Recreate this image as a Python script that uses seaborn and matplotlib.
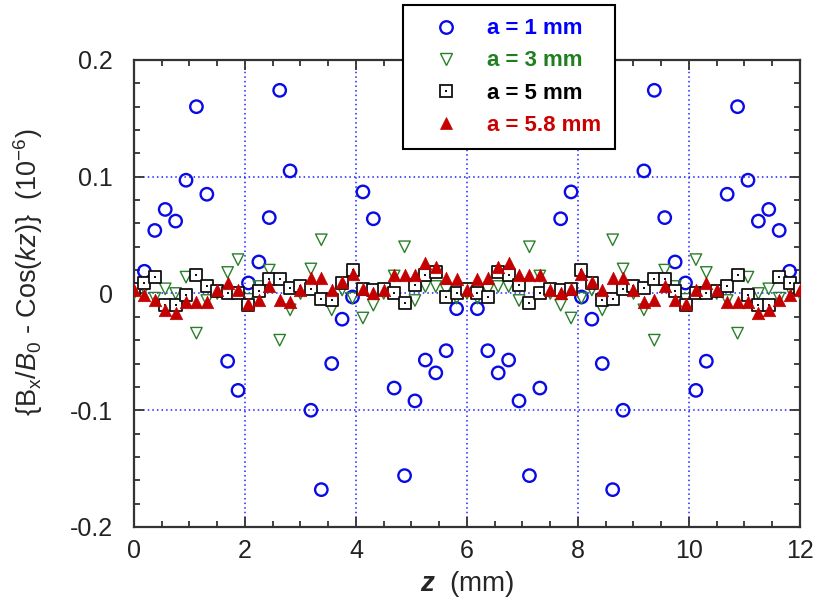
import numpy as np
import pandas as pd
import matplotlib
matplotlib.use("Agg")
import matplotlib.pyplot as plt
from matplotlib.lines import Line2D
from matplotlib.legend_handler import HandlerTuple
from matplotlib.ticker import MultipleLocator, FixedLocator, FixedFormatter
import seaborn as sns

# Field deviation from a pure cosine along z, for four gap sizes a
z_mm = np.linspace(0.0, 12.0, 65)
nan = np.nan

dev_a1 = [nan, 0.019, 0.054, 0.072, 0.062, 0.097, 0.160, 0.085, nan, -0.058,
          -0.083, 0.009, 0.027, 0.065, 0.174, 0.105, nan, -0.100, -0.168, -0.060,
          -0.022, -0.003, 0.087, 0.064, nan, -0.081, -0.156, -0.092, -0.057, -0.068,
          -0.049, -0.013, nan,
          -0.013, -0.049, -0.068, -0.057, -0.092, -0.156, -0.081, nan, 0.064, 0.087,
          -0.003, -0.022, -0.060, -0.168, -0.100, nan, 0.105, 0.174, 0.065, 0.027,
          0.009, -0.083, -0.058, nan, 0.085, 0.160, 0.097, 0.062, 0.072, 0.054,
          0.019, nan]

dev_a3 = [0.0, 0.004, -0.004, 0.004, 0.0, 0.014, -0.034, -0.006, 0.0, 0.018,
          0.029, -0.005, 0.006, 0.020, -0.040, -0.014, 0.0, 0.021, 0.046, -0.014,
          0.003, -0.004, -0.021, -0.010, 0.0, 0.015, 0.040, -0.006, 0.006, 0.006,
          0.003, -0.004, 0.0,
          -0.004, 0.003, 0.006, 0.006, -0.006, 0.040, 0.015, 0.0, -0.010, -0.021,
          -0.004, 0.003, -0.014, 0.046, 0.021, 0.0, -0.014, -0.040, 0.020, 0.006,
          -0.005, 0.029, 0.018, 0.0, -0.006, -0.034, 0.014, 0.0, 0.004, -0.004,
          0.004, 0.0]

dev_a5 = [0.004, 0.009, 0.014, -0.010, -0.010, -0.001, 0.016, 0.006, 0.002, 0.0,
          0.0, -0.010, 0.002, 0.012, 0.012, 0.005, 0.006, 0.004, -0.005, -0.006,
          0.009, 0.020, 0.004, 0.003, 0.004, 0.0, -0.008, 0.007, 0.016, 0.018,
          -0.003, 0.0, 0.004,
          0.0, -0.003, 0.018, 0.016, 0.007, -0.008, 0.0, 0.004, 0.003, 0.004,
          0.020, 0.009, -0.006, -0.005, 0.004, 0.006, 0.005, 0.012, 0.012, 0.002,
          -0.010, 0.0, 0.0, 0.002, 0.006, 0.016, -0.001, -0.010, -0.010, 0.014,
          0.009, 0.004]

dev_a58 = [0.003, -0.001, -0.006, -0.014, -0.017, -0.007, -0.007, -0.007, 0.003, 0.009,
           0.003, -0.009, -0.006, 0.006, -0.006, -0.007, 0.003, 0.013, 0.013, 0.003,
           0.010, 0.017, 0.004, 0.0, 0.003, 0.016, 0.016, 0.016, 0.026, 0.023,
           0.013, 0.012, 0.003,
           0.012, 0.013, 0.023, 0.026, 0.016, 0.016, 0.016, 0.003, 0.0, 0.004,
           0.017, 0.010, 0.003, 0.013, 0.013, 0.003, -0.007, -0.006, 0.006, -0.006,
           -0.009, 0.003, 0.009, 0.003, -0.007, -0.007, -0.007, -0.017, -0.014, -0.006,
           -0.001, 0.003]

series_labels = ["a = 1 mm", "a = 3 mm", "a = 5 mm", "a = 5.8 mm"]
x_ticks = [0, 2, 4, 6, 8, 10, 12]
x_tick_labels = ["0", "2", "4", "6", "8", "10", "12"]
y_ticks = [-0.2, -0.1, 0.0, 0.1, 0.2]
y_tick_labels = ["-0.2", "-0.1", "0", "0.1", "0.2"]

df = pd.DataFrame({"z": z_mm, "a1": dev_a1, "a3": dev_a3, "a5": dev_a5, "a58": dev_a58})

sns.set_style("ticks")
plt.rcParams["font.family"] = ["Liberation Sans", "DejaVu Sans"]
plt.rcParams["mathtext.fontset"] = "custom"
plt.rcParams["mathtext.rm"] = "Liberation Sans"
plt.rcParams["mathtext.it"] = "Liberation Sans:italic"
plt.rcParams["mathtext.bf"] = "Liberation Sans:bold"
plt.rcParams["mathtext.bfit"] = "Liberation Sans:bold:italic"

c_blue = "#0a0ae6"
c_green = "#2a7f2a"
c_black = "#111111"
c_red = "#c40000"
c_grid = "#2020ff"

fig = plt.figure(figsize=(8.19, 6.07), dpi=100)
ax = fig.add_axes([0.1636, 0.1318, 0.8132, 0.7694])

# grid lines at the inner major ticks
for xv in x_ticks[1:-1]:
    ax.axvline(xv, color=c_grid, ls=(0, (1, 2)), lw=1.1, zorder=0)
for yv in y_ticks[1:-1]:
    ax.axhline(yv, color=c_grid, ls=(0, (1, 2)), lw=1.1, zorder=0)

sns.scatterplot(data=df, x="z", y="a1", ax=ax, marker="o", s=80,
                facecolor="none", edgecolor=c_blue, linewidth=1.7, zorder=2, legend=False)
sns.scatterplot(data=df, x="z", y="a3", ax=ax, marker="v", s=68,
                facecolor="none", edgecolor=c_green, linewidth=1.0, zorder=3, legend=False)
sns.scatterplot(data=df, x="z", y="a5", ax=ax, marker="s", s=72,
                facecolor="white", edgecolor=c_black, linewidth=1.3, zorder=4, legend=False)
sns.scatterplot(data=df, x="z", y="a5", ax=ax, marker="s", s=4,
                color=c_black, linewidth=0, zorder=5, legend=False)
sns.scatterplot(data=df, x="z", y="a58", ax=ax, marker="^", s=80,
                color=c_red, edgecolor=c_red, linewidth=0.5, zorder=6, legend=False)

ax.set_xlim(0, 12)
ax.set_ylim(-0.2, 0.2)
ax.xaxis.set_major_locator(FixedLocator(x_ticks))
ax.xaxis.set_major_formatter(FixedFormatter(x_tick_labels))
ax.yaxis.set_major_locator(FixedLocator(y_ticks))
ax.yaxis.set_major_formatter(FixedFormatter(y_tick_labels))
ax.xaxis.set_minor_locator(MultipleLocator(0.5))
ax.yaxis.set_minor_locator(MultipleLocator(0.02))
ax.tick_params(which="both", direction="in", top=True, right=True,
               color="#333333", width=1.3)
ax.tick_params(which="major", length=7)
ax.tick_params(which="minor", length=4)
ax.tick_params(axis="x", which="major", labelsize=18, pad=9, labelcolor="#222222")
ax.tick_params(axis="y", which="major", labelsize=18, pad=15, labelcolor="#222222")
for sp in ax.spines.values():
    sp.set_color("#333333")
    sp.set_linewidth(1.6)

ax.set_xlabel(r"$\mathbfit{z}$  (mm)", fontsize=20, labelpad=4)
ax.set_ylabel(r"{B$_\mathrm{x}$/$B_0$ - Cos($kz$)}  (10$^{-6}$)", fontsize=19.5)
ax.yaxis.set_label_coords(-0.133, 0.545)

# legend with marker glyphs matching the plotted symbols
h1 = Line2D([], [], ls="none", marker="o", ms=9, mfc="none", mec=c_blue, mew=1.7)
h2 = Line2D([], [], ls="none", marker="v", ms=8.2, mfc="none", mec=c_green, mew=1.0)
h3a = Line2D([], [], ls="none", marker="s", ms=8.5, mfc="white", mec=c_black, mew=1.3)
h3b = Line2D([], [], ls="none", marker="s", ms=2.0, mfc=c_black, mec=c_black, mew=0)
h4 = Line2D([], [], ls="none", marker="^", ms=9, mfc=c_red, mec=c_red, mew=0.5)
leg = fig.legend([h1, h2, (h3a, h3b), h4], series_labels,
                 handler_map={tuple: HandlerTuple(ndivide=1, pad=0)},
                 loc="upper left", bbox_to_anchor=(403 / 819, 1 - 5 / 607),
                 bbox_transform=fig.transFigure,
                 prop={"weight": "bold", "size": 16},
                 labelcolor=["#0000ff", "#1f7f1f", "#000000", "#cc0000"],
                 frameon=True, fancybox=False, framealpha=1, edgecolor="black",
                 borderpad=0.6, handlelength=2.7, handletextpad=0.5,
                 labelspacing=0.5, borderaxespad=0, numpoints=1)
leg.get_frame().set_linewidth(1.5)
leg.set_zorder(10)

fig.savefig("out.png", dpi=100)
